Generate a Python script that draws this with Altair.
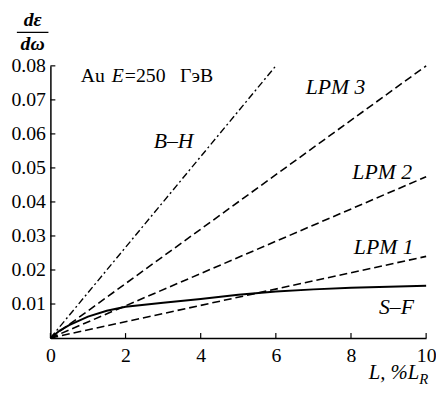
import altair as alt
import pandas as pd

FONT = "Liberation Serif"

# Straight-line models (endpoints)
bh_x = [0, 6]
bh_y = [0, 0.080]
lpm3_x = [0, 10]
lpm3_y = [0, 0.080]
lpm2_x = [0, 10]
lpm2_y = [0, 0.0474]
lpm1_x = [0, 10]
lpm1_y = [0, 0.024]

# S-F curve
sf_x = [0, 0.25, 0.5, 1, 1.5, 2, 3, 4, 5, 6, 7, 8, 9, 10]
sf_y = [0, 0.0022, 0.0038, 0.0063, 0.0080, 0.0092, 0.0104, 0.0115, 0.0127, 0.0137, 0.0143, 0.0148, 0.0151, 0.0154]

x_ticks = [0, 2, 4, 6, 8, 10]
y_ticks = [0.01, 0.02, 0.03, 0.04, 0.05, 0.06, 0.07, 0.08]

# curve labels
lab_text = ["B–H", "LPM 3", "LPM 2", "LPM 1", "S–F"]
lab_x = [3.28, 7.59, 8.83, 8.87, 9.21]
lab_y = [0.0578, 0.0738, 0.0488, 0.0267, 0.0091]

# header note
note_parts = ["Au", "E", "=250", "ГэВ"]
note_x = [0.81, 1.63, 1.98, 3.45]
note_style = ["normal", "italic", "normal", "normal"]
note_y = 0.0770

W, H = 381, 276

def line_df(xv, yv):
    return pd.DataFrame({"x": xv, "y": yv})

xs = alt.Scale(domain=[0, 10], nice=False)
ys = alt.Scale(domain=[0, 0.08], nice=False)

x_axis = alt.Axis(values=x_ticks, format="d", title=None, labelPadding=8, tickSize=0,
                  labelFont=FONT, labelFontSize=20, labelColor="black",
                  domainColor="black", domainWidth=1.5, grid=False,
                  labelOverlap=False, labelBound=False, labelFlush=False)
y_axis = alt.Axis(values=y_ticks, format=".2f", title=None, labelPadding=5, tickSize=0,
                  labelFont=FONT, labelFontSize=20, labelColor="black",
                  domainColor="black", domainWidth=1.5, grid=False,
                  labelOverlap=False, labelBound=False, labelFlush=False)

X = lambda f="x": alt.X(f"{f}:Q", scale=xs, axis=x_axis)
Y = lambda f="y": alt.Y(f"{f}:Q", scale=ys, axis=y_axis)

def draw(df, dash=None, width=1.6):
    kw = {"strokeWidth": width, "color": "black"}
    if dash:
        kw["strokeDash"] = dash
    return alt.Chart(df).mark_line(**kw).encode(x=X(), y=Y())

bh = draw(line_df(bh_x, bh_y), dash=[7, 3, 2, 3], width=1.4)
l3 = draw(line_df(lpm3_x, lpm3_y), dash=[8, 4])
l2 = draw(line_df(lpm2_x, lpm2_y), dash=[8, 4])
l1 = draw(line_df(lpm1_x, lpm1_y), dash=[8, 4])
sf = draw(line_df(sf_x, sf_y), width=2)

# inward ticks
xt = alt.Chart(pd.DataFrame({"x": x_ticks})).mark_rule(color="black", strokeWidth=1.2).encode(
    x=X(), y=alt.value(H), y2=alt.value(H - 5))
yt = alt.Chart(pd.DataFrame({"y": y_ticks})).mark_rule(color="black", strokeWidth=1.2).encode(
    y=Y(), x=alt.value(0), x2=alt.value(5))

labels = alt.Chart(pd.DataFrame({"t": lab_text, "x": lab_x, "y": lab_y})).mark_text(
    font=FONT, fontSize=22, fontStyle="italic", align="center", baseline="middle", color="black"
).encode(x=X(), y=Y(), text="t:N")

note_df = pd.DataFrame({"t": note_parts, "x": note_x, "y": [note_y] * len(note_parts), "st": note_style})
note_n = alt.Chart(note_df).transform_filter("datum.st == 'normal'").mark_text(
    font=FONT, fontSize=20, align="left", baseline="middle", color="black"
).encode(x=X(), y=Y(), text="t:N")
note_i = alt.Chart(note_df).transform_filter("datum.st == 'italic'").mark_text(
    font=FONT, fontSize=20, fontStyle="italic", align="left", baseline="middle", color="black"
).encode(x=X(), y=Y(), text="t:N")

# y title as fraction
yt_top = alt.Chart(pd.DataFrame({"t": ["dε"]})).mark_text(
    font=FONT, fontSize=20, fontStyle="italic", fontWeight="bold", align="center", baseline="alphabetic", color="black"
).encode(x=alt.value(-18), y=alt.value(-40), text="t:N")
yt_bot = alt.Chart(pd.DataFrame({"t": ["dω"]})).mark_text(
    font=FONT, fontSize=20, fontStyle="italic", fontWeight="bold", align="center", baseline="alphabetic", color="black"
).encode(x=alt.value(-18), y=alt.value(-16), text="t:N")
yt_bar = alt.Chart(pd.DataFrame({"a": [1]})).mark_rule(color="black", strokeWidth=1.3).encode(
    x=alt.value(-34), x2=alt.value(-2), y=alt.value(-34))

# x title with subscript
xt_main = alt.Chart(pd.DataFrame({"t": ["L, %L"]})).mark_text(
    font=FONT, fontSize=21, fontStyle="italic", align="right", baseline="alphabetic", color="black"
).encode(x=alt.value(W - 7), y=alt.value(H + 42), text="t:N")
xt_sub = alt.Chart(pd.DataFrame({"t": ["R"]})).mark_text(
    font=FONT, fontSize=15, fontStyle="italic", align="left", baseline="alphabetic", color="black"
).encode(x=alt.value(W - 7), y=alt.value(H + 47), text="t:N")

chart = alt.layer(
    bh, l3, l2, l1, sf, xt, yt, labels, note_n, note_i, yt_top, yt_bot, yt_bar, xt_main, xt_sub
).properties(
    width=W, height=H,
    background="white",
    autosize=alt.AutoSizeParams(type="none"),
    padding={"left": 43, "top": 56, "right": 10, "bottom": 48},
).configure(font=FONT).configure_view(stroke=None).configure_axis(
    labelFont=FONT, labelFontSize=20, labelColor="black"
)

chart.save("out.html", embed_options={"renderer": "svg", "actions": False})
